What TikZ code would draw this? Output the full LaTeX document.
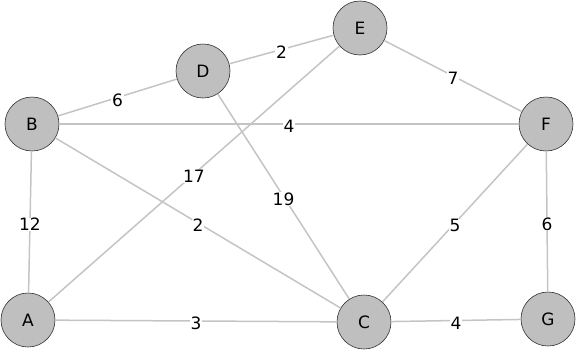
\documentclass[tikz,border=0pt]{standalone}
\usepackage{fontspec}
\setmainfont{DejaVu Sans}
\begin{document}
\begin{tikzpicture}[x=1pt, y=-1pt,
  vertex/.style={circle, draw=black!80, fill=black!25, line width=0.6pt,
    minimum size=54pt, inner sep=0pt, font=\fontsize{17}{17}\selectfont},
  wedge/.style={draw=black!23, line width=1.5pt},
  wlabel/.style={fill=white, inner sep=0.6pt, yshift=-2.5pt,
    font=\fontsize{17}{17}\selectfont}]
  \useasboundingbox (0,0) rectangle (577,351);
  % vertices
  \node[vertex] (E) at (360,28) {E};
  \node[vertex] (D) at (203,71) {D};
  \node[vertex] (B) at (32,124) {B};
  \node[vertex] (F) at (546,124) {F};
  \node[vertex] (A) at (28,320) {A};
  \node[vertex] (C) at (364,322) {C};
  \node[vertex] (G) at (548,319) {G};
  % weighted edges
  \draw[wedge] (B) -- node[wlabel] {6} (D);
  \draw[wedge] (D) -- node[wlabel] {2} (E);
  \draw[wedge] (E) -- node[wlabel] {7} (F);
  \draw[wedge] (B) -- node[wlabel] {4} (F);
  \draw[wedge] (B) -- node[wlabel] {12} (A);
  \draw[wedge] (A) -- node[wlabel] {17} (E);
  \draw[wedge] (D) -- node[wlabel] {19} (C);
  \draw[wedge] (B) -- node[wlabel] {2} (C);
  \draw[wedge] (A) -- node[wlabel] {3} (C);
  \draw[wedge] (C) -- node[wlabel] {5} (F);
  \draw[wedge] (F) -- node[wlabel] {6} (G);
  \draw[wedge] (C) -- node[wlabel] {4} (G);
\end{tikzpicture}
\end{document}
